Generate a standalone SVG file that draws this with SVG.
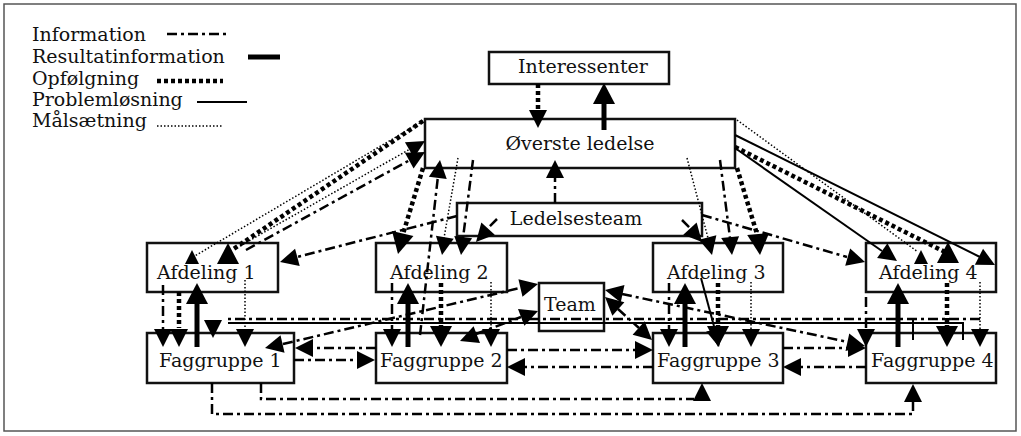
<svg xmlns="http://www.w3.org/2000/svg" xmlns:xlink="http://www.w3.org/1999/xlink" width="1021" height="436" viewBox="0 0 1021 436">
<style>
text{font-family:"DejaVu Serif","Liberation Serif",serif;font-size:19px;fill:#111}
.box{fill:none;stroke:#111;stroke-width:2.5}
.frame{fill:#fff;stroke:#555;stroke-width:1.5}
.inf{fill:none;stroke:#000;stroke-width:2.5;stroke-dasharray:10 4 3 4}
.res{fill:none;stroke:#000;stroke-width:5}
.opf{fill:none;stroke:#000;stroke-width:4.5;stroke-dasharray:4 3}
.pro{fill:none;stroke:#000;stroke-width:2}
.mal{fill:none;stroke:#000;stroke-width:1.5;stroke-dasharray:1.5 2}
</style>
<defs>
<path id="al" d="M0,0 L-21,-11 L-21,11 Z" fill="#000"/>
<path id="am" d="M0,0 L-18,-9 L-18,9 Z" fill="#000"/>
<path id="as" d="M0,0 L-14,-7 L-14,7 Z" fill="#000"/>
</defs>
<rect class="frame" x="4" y="4" width="1012" height="427"/>
<g id="legend">
<text x="32" y="41">Information</text>
<text x="32" y="63">Resultatinformation</text>
<text x="32" y="85">Opfølgning</text>
<text x="32" y="106">Problemløsning</text>
<text x="32" y="127">Målsætning</text>
<path class="inf" d="M167,34 L230,34"/>
<path class="res" d="M248,57 L280,57"/>
<path class="opf" d="M157,81 L223,81"/>
<path class="pro" d="M197,102 L247,102"/>
<path class="mal" d="M157,126 L223,126"/>
</g>
<g id="interessenter"><rect class="box" x="489" y="52" width="180" height="32"/><text x="583" y="73" text-anchor="middle">Interessenter</text></g>
<g id="overste"><rect class="box" x="425" y="119" width="310" height="49"/><text x="580" y="150" text-anchor="middle">Øverste ledelse</text></g>
<g id="ledelsesteam"><rect class="box" x="457" y="203" width="245" height="33"/><text x="576" y="225" text-anchor="middle">Ledelsesteam</text></g>
<g id="afd1"><rect class="box" x="147" y="243" width="131" height="49"/><text x="157" y="279">Afdeling 1</text></g>
<g id="afd2"><rect class="box" x="376" y="243" width="131" height="49"/><text x="390" y="279">Afdeling 2</text></g>
<g id="afd3"><rect class="box" x="653" y="243" width="130" height="49"/><text x="667" y="279">Afdeling 3</text></g>
<g id="afd4"><rect class="box" x="866" y="243" width="130" height="49"/><text x="879" y="279">Afdeling 4</text></g>
<g id="team"><rect class="box" x="539" y="283" width="65" height="48"/><text x="544" y="311">Team</text></g>
<g id="fag1"><rect class="box" x="147" y="333" width="147" height="50"/><text x="159" y="367">Faggruppe 1</text></g>
<g id="fag2"><rect class="box" x="376" y="333" width="131" height="50"/><text x="380" y="367">Faggruppe 2</text></g>
<g id="fag3"><rect class="box" x="653" y="333" width="130" height="50"/><text x="657" y="367">Faggruppe 3</text></g>
<g id="fag4"><rect class="box" x="866" y="333" width="130" height="50"/><text x="871" y="367">Faggruppe 4</text></g>
<g id="connectors">
<path class="opf" d="M538,84 L538,112"/><use href="#am" transform="translate(538,128) rotate(90)"/>
<path class="res" d="M604,130 L604,100"/><use href="#al" transform="translate(604,83) rotate(-90)"/>
<path class="inf" d="M555,203 L555,176"/><use href="#am" transform="translate(555,160) rotate(-90)"/>
<path class="mal" d="M423,121 L193,257"/><use href="#as" transform="translate(192,250) rotate(-90)"/>
<path class="opf" d="M423,121 L232,250"/><use href="#al" transform="translate(228,243) rotate(-90)"/>
<path class="mal" d="M240,246 L410,149"/><use href="#am" transform="translate(425,141) rotate(-30)"/>
<path class="inf" d="M246,250 L410,160"/><use href="#am" transform="translate(425,152) rotate(-29)"/>
<path class="inf" d="M457,216 L297,257"/><use href="#am" transform="translate(280,262) rotate(165)"/>
<path class="opf" d="M423,168 L403,234"/><use href="#al" transform="translate(398,254) rotate(103)"/>
<path class="inf" d="M420,335 L438,176"/><use href="#am" transform="translate(440,160) rotate(-83)"/>
<path class="mal" d="M458,158 L444,238"/><use href="#am" transform="translate(442,255) rotate(99)"/>
<path class="inf" d="M473,160 L463,238"/><use href="#am" transform="translate(461,255) rotate(97)"/>
<path class="inf" d="M497,219 L487,229"/><use href="#am" transform="translate(476,242) rotate(132)"/>
<path class="mal" d="M687,158 L708,238"/><use href="#am" transform="translate(712,255) rotate(76)"/>
<path class="inf" d="M720,160 L730,238"/><use href="#am" transform="translate(732,255) rotate(84)"/>
<path class="opf" d="M737,168 L757,234"/><use href="#al" transform="translate(760,255) rotate(85)"/>
<path class="inf" d="M682,220 L692,230"/><use href="#am" transform="translate(702,242) rotate(48)"/>
<path class="inf" d="M702,215 L847,257"/><use href="#am" transform="translate(865,262) rotate(16)"/>
<path class="mal" d="M737,120 L918,252"/><use href="#as" transform="translate(921,250) rotate(-90)"/>
<path class="pro" d="M735,135 L980,257"/><use href="#am" transform="translate(995,265) rotate(27)"/>
<path class="opf" d="M735,147 L945,252"/><use href="#al" transform="translate(948,242) rotate(-90)"/>
<path class="pro" d="M735,148 L882,251"/><use href="#am" transform="translate(897,261) rotate(35)"/>
<path class="inf" d="M163,285 L163,330"/><use href="#am" transform="translate(163,347) rotate(90)"/>
<path class="opf" d="M179,292 L179,328"/><use href="#am" transform="translate(179,347) rotate(90)"/>
<path class="res" d="M197,347 L197,302"/><use href="#al" transform="translate(197,283) rotate(-90)"/>
<path class="mal" d="M245,280 L245,330"/><use href="#am" transform="translate(245,347) rotate(90)"/>
<path class="inf" d="M392,283 L392,330"/><use href="#am" transform="translate(392,347) rotate(90)"/>
<path class="res" d="M408,347 L408,302"/><use href="#al" transform="translate(408,283) rotate(-90)"/>
<path class="opf" d="M441,283 L441,328"/><use href="#al" transform="translate(441,347) rotate(90)"/>
<path class="mal" d="M491,282 L491,330"/><use href="#am" transform="translate(491,347) rotate(90)"/>
<path class="inf" d="M283,344 L520,288"/><use href="#am" transform="translate(538,284) rotate(-13)"/><use href="#am" transform="translate(265,348) rotate(167)"/>
<path class="inf" d="M476,334 L521,317"/><use href="#am" transform="translate(538,311) rotate(-21)"/><use href="#am" transform="translate(460,341) rotate(159)"/>
<path class="inf" d="M622,294 L848,342"/><use href="#am" transform="translate(605,290) rotate(192)"/><use href="#am" transform="translate(865,346) rotate(12)"/>
<path class="inf" d="M618,309 L639,328"/><use href="#am" transform="translate(605,297) rotate(222)"/><use href="#am" transform="translate(652,340) rotate(42)"/>
<path class="inf" d="M669,283 L669,330"/><use href="#am" transform="translate(669,347) rotate(90)"/>
<path class="res" d="M685,347 L685,302"/><use href="#al" transform="translate(685,283) rotate(-90)"/>
<path class="pro" d="M701,278 L715,330"/><use href="#am" transform="translate(719,347) rotate(77)"/>
<path class="opf" d="M718,283 L718,326"/><use href="#al" transform="translate(718,347) rotate(90)"/>
<path class="mal" d="M751,282 L751,330"/><use href="#am" transform="translate(751,347) rotate(90)"/>
<path class="inf" d="M866,297 L866,330"/><use href="#am" transform="translate(866,347) rotate(90)"/>
<path class="res" d="M898,347 L898,302"/><use href="#al" transform="translate(898,283) rotate(-90)"/>
<path class="opf" d="M947,283 L947,326"/><use href="#al" transform="translate(947,347) rotate(90)"/>
<path class="mal" d="M980,282 L980,330"/><use href="#am" transform="translate(980,347) rotate(90)"/>
<path class="inf" d="M980,319 L228,319"/><use href="#am" transform="translate(213,338) rotate(90)"/>
<path class="pro" d="M228,323 L963,323 M913,320 L913,340 M963,322 L963,340"/>
<path class="inf" d="M376,348 L313,348"/><use href="#am" transform="translate(295,348) rotate(180)"/>
<path class="inf" d="M294,360 L357,360"/><use href="#am" transform="translate(375,360)"/>
<path class="inf" d="M507,350 L635,350"/><use href="#am" transform="translate(653,350)"/>
<path class="inf" d="M653,367 L525,367"/><use href="#am" transform="translate(507,367) rotate(180)"/>
<path class="inf" d="M783,348 L848,348"/><use href="#am" transform="translate(866,348)"/>
<path class="inf" d="M866,367 L801,367"/><use href="#am" transform="translate(783,367) rotate(180)"/>
<path class="inf" d="M212,383 L212,414 L913,414 L913,402"/><use href="#am" transform="translate(913,384) rotate(-90)"/>
<path class="inf" d="M261,383 L261,399 L694,399"/><use href="#am" transform="translate(702,383) rotate(-90)"/>
</g>
</svg>
